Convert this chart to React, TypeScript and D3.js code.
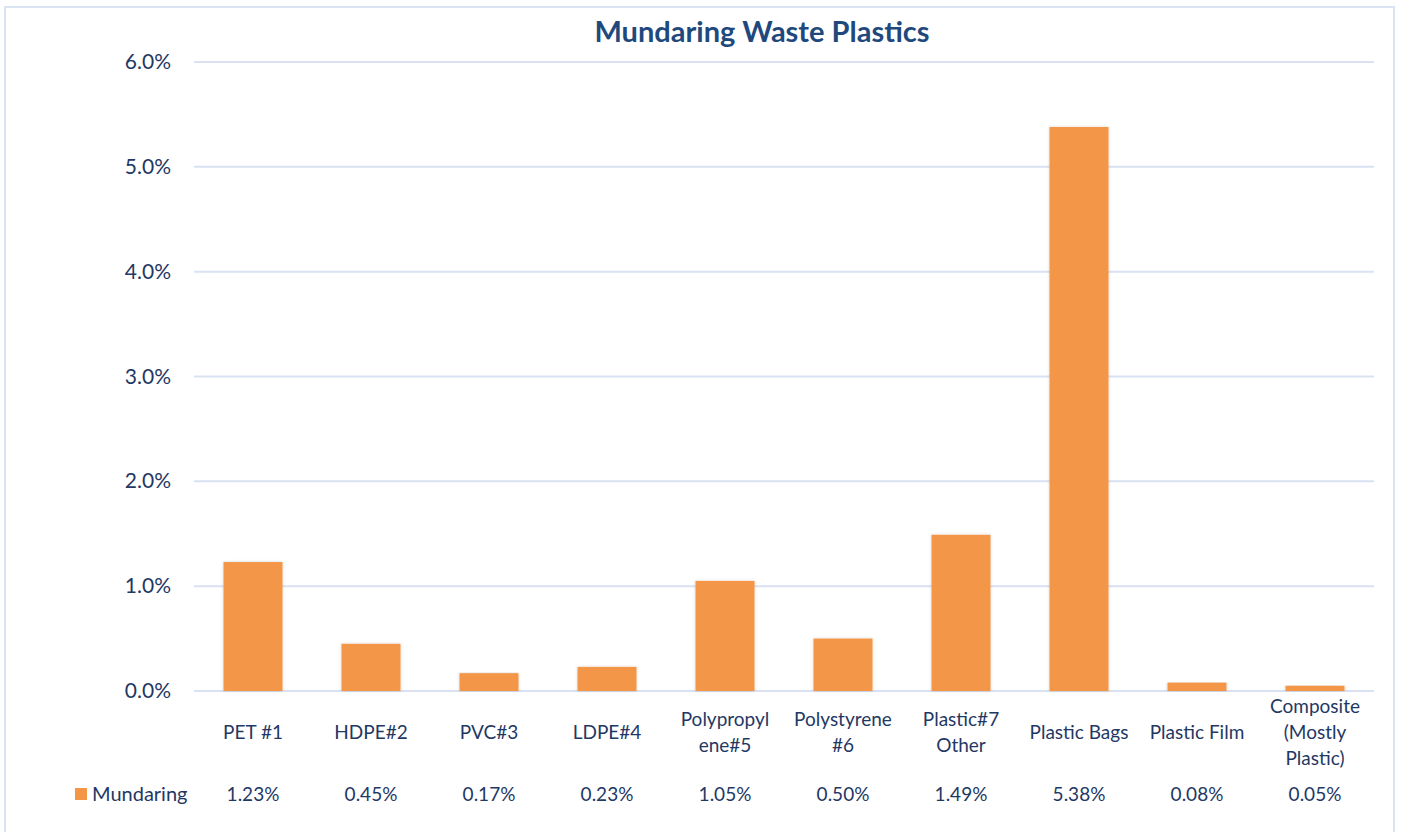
import React from "react";
import * as d3 from "d3";

const categories: string[][] = [
  ["PET #1"],
  ["HDPE#2"],
  ["PVC#3"],
  ["LDPE#4"],
  ["Polypropyl", "ene#5"],
  ["Polystyrene", "#6"],
  ["Plastic#7", "Other"],
  ["Plastic Bags"],
  ["Plastic Film"],
  ["Composite", "(Mostly", "Plastic)"],
];
const values: number[] = [1.23, 0.45, 0.17, 0.23, 1.05, 0.5, 1.49, 5.38, 0.08, 0.05];
const yTicks: number[] = [0, 1, 2, 3, 4, 5, 6];
const seriesName = "Mundaring";
const title = "Mundaring Waste Plastics";

const W = 1401;
const H = 832;
const FONT = "Lato, 'Open Sans', sans-serif";
const TEXT = "#1F3864";

export default function App() {
  const left = 194;
  const right = 1374;
  const top = 62;
  const bottom = 691;
  const x = d3
    .scaleBand<number>()
    .domain(d3.range(values.length))
    .range([left, right])
    .paddingInner(0.5)
    .paddingOuter(0.25);
  const y = d3.scaleLinear().domain([0, 6]).range([bottom, top]);
  const cx = (i: number) => x(i)! + x.bandwidth() / 2;

  return (
    <svg width={W} height={H} style={{ position: "absolute", left: 0, top: 0 }}>
      <defs>
        <filter id="sh" x="-20%" y="-5%" width="140%" height="110%">
          <feDropShadow dx="0" dy="0" stdDeviation="1.5" floodColor="#000" floodOpacity="0.18" />
        </filter>
      </defs>
      <rect x={0} y={0} width={W} height={H} fill="#fff" />
      <rect x={5} y={7} width={1389} height={H} fill="none" stroke="#D9E3F1" strokeWidth={2} />
      <text x={762} y={42} textAnchor="middle" fontFamily={FONT} fontWeight="bold" fontSize={29} fill="#1F497D">
        {title}
      </text>
      {yTicks.map((t) => (
        <g key={t}>
          <line x1={left} x2={right} y1={y(t)} y2={y(t)} stroke="#D9E1F2" strokeWidth={2} />
          <text x={171} y={y(t) + 7} textAnchor="end" fontFamily={FONT} fontSize={21} fill={TEXT}>
            {t.toFixed(1)}%
          </text>
        </g>
      ))}
      {values.map((v, i) => (
        <rect
          key={i}
          x={x(i)!}
          y={y(v)}
          width={x.bandwidth()}
          height={y(0) - y(v)}
          fill="#F39646"
          filter="url(#sh)"
        />
      ))}
      {categories.map((lines, i) => {
        const n = lines.length;
        const startY = 739 - ((n - 1) * 26) / 2;
        return (
          <text key={i} textAnchor="middle" fontFamily={FONT} fontSize={19} fill={TEXT}>
            {lines.map((l, j) => (
              <tspan key={j} x={cx(i)} y={startY + j * 26}>
                {l}
              </tspan>
            ))}
          </text>
        );
      })}
      <rect x={75} y={788} width={12} height={12} fill="#F39646" />
      <text x={92} y={801} fontFamily={FONT} fontSize={20} fill={TEXT}>
        {seriesName}
      </text>
      {values.map((v, i) => (
        <text key={i} x={cx(i)} y={801} textAnchor="middle" fontFamily={FONT} fontSize={19} fill={TEXT}>
          {v.toFixed(2)}%
        </text>
      ))}
    </svg>
  );
}
